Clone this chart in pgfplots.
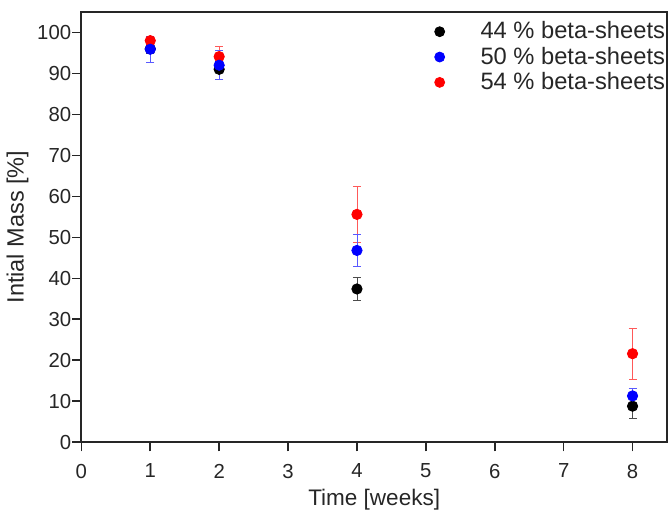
\documentclass[border=0pt]{standalone}
\usepackage{fontspec}
\setmainfont{Liberation Sans}
\usepackage{pgfplots}
\pgfplotsset{compat=1.18}
\begin{document}
\begin{tikzpicture}
\begin{axis}[
  scale only axis,
  width=294pt, height=216pt,
  xmin=0, xmax=8.5, ymin=0, ymax=105,
  xtick={0,1,...,8}, ytick={0,10,...,100},
  axis line style={line width=1pt, black!85},
  tick style={line width=0.8pt, black!85},
  tick align=outside, major tick length=4.6pt,
  xtick pos=bottom, ytick pos=left,
  /pgf/number format/assume math mode=true,
  tick label style={font=\fontsize{10.2}{12}\selectfont, text=black!85},
  yticklabel style={xshift=3pt},
  xticklabel style={yshift=-2.8pt},
  xlabel={Time [weeks]}, ylabel={Intial Mass [\%]},
  xlabel style={font=\fontsize{11.3}{13}\selectfont, text=black!85, yshift=1.5pt},
  ylabel style={font=\fontsize{11.8}{13}\selectfont, text=black!85, yshift=-2.5pt},
  legend style={at={(1,0.997)}, anchor=north east, draw=none, fill=none, inner xsep=0pt,
    nodes={inner xsep=0.8pt},
    font=\fontsize{11.9}{13}\selectfont, row sep=-1.4pt, text=black!85},
  legend cell align=left,
  legend image code/.code={\node[inner sep=0pt, minimum width=16pt, minimum height=1pt, draw=none] at (8pt,0) {}; \path[#1] plot[mark=*] coordinates {(4.5pt,0cm)};},
  error bars/error bar style={line width=0.4pt},
  error bars/error mark options={rotate=90, mark size=2pt, line width=0.4pt},
]
\addlegendimage{mark=*, mark size=2.5pt, black, mark options={fill=black, draw=black}}
\addlegendentry{44 \% beta-sheets}
\addlegendimage{mark=*, mark size=2.5pt, blue, mark options={fill=blue, draw=blue}}
\addlegendentry{50 \% beta-sheets}
\addlegendimage{mark=*, mark size=2.5pt, red, mark options={fill=red, draw=red}}
\addlegendentry{54 \% beta-sheets}
\addplot[forget plot, only marks, mark=*, mark size=2.6pt, color=black, mark options={fill=black, draw=black},
  error bars/.cd, y dir=both, y explicit,
  error bar style={black!70}, error mark options={rotate=90, mark size=2pt, black!70}]
  coordinates {
  (1,96.0) +- (0,1.0)
  (2,91.0) +- (0,2.5)
  (4,37.4) +- (0,2.8)
  (8,8.8) +- (0,3.0)
  };
\addplot[forget plot, only marks, mark=*, mark size=2.6pt, color=red, mark options={fill=red, draw=red},
  error bars/.cd, y dir=both, y explicit,
  error bar style={red!65}, error mark options={rotate=90, mark size=2pt, red!65}]
  coordinates {
  (1,98.0) +- (0,1.0)
  (2,94.1) +- (0,2.4)
  (4,55.6) +- (0,6.8)
  (8,21.6) +- (0,6.2)
  };
\addplot[forget plot, only marks, mark=*, mark size=2.6pt, color=blue, mark options={fill=blue, draw=blue},
  error bars/.cd, y dir=both, y explicit,
  error bar style={blue!65}, error mark options={rotate=90, mark size=2pt, blue!65}]
  coordinates {
  (1,95.9) +- (0,3.2)
  (2,92.0) +- (0,3.5)
  (4,46.8) +- (0,3.8)
  (8,11.3) +- (0,1.8)
  };
\end{axis}
\path (current axis.north east) ++(0,6pt);
\end{tikzpicture}
\end{document}
